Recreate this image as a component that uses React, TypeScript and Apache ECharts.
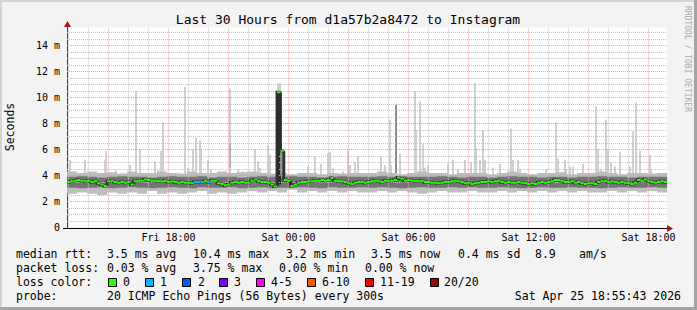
import React, { useEffect, useRef } from "react";
import * as echarts from "echarts";

// Time in hours since Fri 00:00; graph ends Sat 18:55:43, covers 30 hours
const START_H = 12 + 55 / 60 + 43 / 3600;
const END_H = START_H + 30;
const COL_H = 1 / 6; // 10-minute median columns
const SLOT_H = 1 / 12; // 5-minute probe rounds
const BAND_H = 0.5; // 30-minute smoke blocks

// median rtt (ms), one value per 10 minutes
const median = [
  3.5, 3.55, 3.6, 3.65, 3.6, 3.55, 3.6, 3.5, 3.55, 3.4, 3.3, 3.2, 3.55, 3.6, 3.5, 3.45, 3.5, 3.45,
  3.5, 3.3, 3.55, 3.6, 3.6, 3.7, 3.65, 3.6, 3.6, 3.55, 3.55, 3.6, 3.5, 3.55, 3.5, 3.45, 3.5, 3.45,
  3.45, 3.4, 3.5, 3.5, 3.5, 3.55, 3.5, 3.6, 3.6, 3.4, 3.35, 3.25, 3.3, 3.45, 3.5, 3.45, 3.5, 3.45,
  3.45, 3.6, 3.7, 3.55, 3.5, 3.5, 3.45, 3.3, 3.15, 10.4, 5.9, 3.65, 3.6, 3.2, 3.3, 3.45, 3.5, 3.5,
  3.55, 3.55, 3.6, 3.6, 3.65, 3.6, 3.65, 3.8, 3.6, 3.55, 3.55, 3.5, 3.4, 3.35, 3.45, 3.5, 3.5, 3.45,
  3.5, 3.55, 3.6, 3.55, 3.5, 3.6, 3.55, 3.6, 3.65, 3.85, 3.75, 3.6, 3.65, 3.6, 3.55, 3.55, 3.6, 3.5,
  3.5, 3.45, 3.45, 3.4, 3.45, 3.5, 3.5, 3.55, 3.6, 3.55, 3.5, 3.4, 3.45, 3.35, 3.4, 3.45, 3.5, 3.5,
  3.55, 3.5, 3.55, 3.6, 3.5, 3.45, 3.5, 3.45, 3.45, 3.5, 3.45, 3.4, 3.35, 3.4, 3.35, 3.45, 3.5, 3.45,
  3.5, 3.55, 3.65, 3.65, 3.6, 3.5, 3.5, 3.55, 3.45, 3.5, 3.4, 3.35, 3.4, 3.4, 3.35, 3.5, 3.55, 3.6,
  3.5, 3.55, 3.5, 3.45, 3.5, 3.45, 3.4, 3.35, 3.45, 3.65, 3.6, 3.7, 3.55, 3.5, 3.45, 3.5, 3.55, 3.5,
];

// columns with packet loss (count of lost pings out of 20)
const lossColumns = [38, 39, 40, 42];
const lossCounts = [1, 1, 1, 1];

// smoke (30-minute blocks): outer and inner spread of the 20 pings, ms
const outerHi = [
  4.3, 4.2, 4.3, 4.2, 4.25, 4.15, 4.3, 4.2, 4.2, 4.3,
  4.2, 4.15, 4.3, 4.2, 4.2, 4.3, 4.2, 4.25, 4.3, 4.2,
  4.15, 4.2, 4.1, 4.2, 4.2, 4.1, 4.2, 4.15, 4.2, 4.2,
  4.2, 4.3, 4.2, 4.1, 4.2, 4.3, 4.2, 4.2, 4.1, 4.2,
  4.2, 4.2, 4.1, 4.2, 4.3, 4.2, 4.1, 4.2, 4.2, 4.25,
  4.1, 4.2, 4.2, 4.3, 4.2, 4.1, 4.2, 4.2, 4.15, 4.2,
];
const outerLo = [
  2.6, 2.7, 2.6, 2.5, 2.7, 2.6, 2.7, 2.6, 2.8, 2.6,
  2.7, 2.6, 2.7, 2.8, 2.6, 2.7, 2.6, 2.7, 2.8, 2.7,
  2.8, 2.7, 2.9, 2.7, 2.8, 2.7, 2.8, 2.7, 2.8, 2.7,
  2.7, 2.8, 2.7, 2.8, 2.7, 2.6, 2.7, 2.8, 2.7, 2.7,
  2.8, 2.7, 2.7, 2.8, 2.7, 2.8, 2.7, 2.8, 2.7, 2.8,
  2.7, 2.8, 2.7, 2.7, 2.8, 2.7, 2.8, 2.7, 2.8, 2.7,
];
const innerHi = [
  3.9, 3.95, 3.9, 3.85, 3.9, 3.95, 3.9, 3.9, 3.85, 3.9,
  3.95, 3.9, 3.9, 3.95, 3.85, 3.9, 3.9, 3.85, 3.9, 3.95,
  3.9, 3.9, 3.95, 3.9, 3.9, 3.85, 3.9, 3.95, 3.9, 3.9,
  3.9, 3.95, 3.9, 3.95, 3.9, 3.9, 3.9, 3.95, 3.9, 3.85,
  3.9, 3.9, 3.85, 3.9, 3.95, 3.9, 3.9, 3.85, 3.9, 3.9,
  3.85, 3.9, 3.9, 3.95, 3.9, 3.9, 3.85, 3.9, 3.9, 3.9,
];
const innerLo = [
  3.05, 3.0, 3.05, 3.1, 3.0, 3.05, 3.1, 3.05, 3.0, 3.05,
  3.1, 3.05, 3.0, 3.1, 3.05, 3.05, 3.1, 3.0, 3.05, 3.1,
  3.0, 3.05, 3.05, 3.1, 3.05, 3.0, 3.1, 3.05, 3.05, 3.1,
  3.05, 3.1, 3.05, 3.0, 3.05, 3.1, 3.05, 3.05, 3.1, 3.05,
  3.1, 3.05, 3.05, 3.1, 3.05, 3.0, 3.05, 3.1, 3.05, 3.05,
  3.1, 3.05, 3.05, 3.0, 3.05, 3.1, 3.05, 3.05, 3.1, 3.05,
];

// highest ping per 5-minute round where it stands out of the smoke
const spikeSlot = [
  1, 10, 22, 23, 29, 37, 41, 43, 52, 54, 56, 57, 70, 72, 75, 77, 79, 80, 84, 86,
  97, 102, 105, 112, 114, 115, 120, 121, 126, 127, 128, 144, 148, 152, 156, 157, 159, 165, 168, 169,
  172, 174, 188, 190, 193, 194, 197, 199, 202, 208, 209, 211, 213, 214, 216, 228, 231, 234, 238, 239,
  242, 244, 245, 247, 249, 250, 255, 259, 266, 267, 270, 271, 287, 293, 294, 298, 299, 301, 303, 309,
  317, 318, 320, 323, 324, 326, 328, 331, 337, 339, 341, 343, 347, 349, 350,
];
const spikeMax = [
  5.2, 5.2, 5.2, 5.9, 4.4, 4.8, 10.5, 6.0, 5.1, 4.4, 5.9, 8.1, 10.8, 4.6, 6.0, 6.9, 6.7, 6.1, 5.2, 4.5,
  10.7, 4.5, 4.3, 6.0, 5.1, 4.6, 6.3, 5.6, 11.1, 11.1, 7.2, 4.7, 5.5, 4.9, 5.7, 5.8, 4.6, 4.3, 5.9, 4.8,
  5.0, 5.5, 5.5, 4.8, 8.3, 4.8, 9.5, 5.7, 4.0, 10.5, 7.5, 9.7, 6.4, 4.6, 4.8, 4.9, 5.2, 4.5, 5.2, 4.0,
  5.0, 11.1, 6.1, 5.2, 7.5, 5.2, 4.6, 4.9, 7.6, 5.2, 5.2, 4.5, 4.5, 8.1, 5.3, 5.2, 4.5, 4.7, 4.7, 4.9,
  9.3, 6.0, 4.5, 8.3, 6.0, 5.0, 4.7, 5.8, 4.7, 7.4, 9.6, 5.9, 4.0, 5.6, 4.5,
];

// rounds where many pings spread high (denser smoke)
const heavySlot = [97, 126, 127, 128, 197];
const heavyLo = [4.6, 3.3, 3.3, 4.0, 4.2];
const heavyHi = [6.5, 10.5, 10.5, 6.6, 9.4];
const heavyLevel = [2, 0, 0, 1, 1];

const xTickHours = [18, 24, 30, 36, 42];
const xTickLabels = ["Fri 18:00", "Sat 00:00", "Sat 06:00", "Sat 12:00", "Sat 18:00"];
const xGridHours = [13, 14, 15, 16, 17, 18, 19, 20, 21, 22, 23, 24, 25, 26, 27, 28, 29, 30, 31, 32, 33, 34, 35, 36, 37, 38, 39, 40, 41, 42];
const xMajorHours = [15, 18, 21, 24, 27, 30, 33, 36, 39, 42];
const yTickValues = [0, 2, 4, 6, 8, 10, 12, 14];
const yGridValues = [0.5, 1, 1.5, 2, 2.5, 3, 3.5, 4, 4.5, 5, 5.5, 6, 6.5, 7, 7.5, 8, 8.5, 9, 9.5, 10, 10.5, 11, 11.5, 12, 12.5, 13, 13.5, 14, 14.5, 15];
const yMax = 15.385;

const lossLabels = ["0", "1", "2", "3", "4-5", "6-10", "11-19", "20/20"];
const lossColors = ["#26ff00", "#00b8ff", "#0059ff", "#7e00ff", "#ff00ff", "#ff5500", "#ff0000", "#a10000"];

const row1 = ["median rtt:", "3.5 ms avg", "10.4 ms max", "3.2 ms min", "3.5 ms now", "0.4 ms sd", "8.9", "am/s"];
const row1X = [16, 107, 193, 286, 371, 458, 535, 579];
const row2 = ["packet loss:", "0.03 % avg", "3.75 % max", "0.00 % min", "0.00 % now"];
const row2X = [16, 107, 193, 279, 365];
const lossBoxX = [108, 145, 182, 219, 256, 307, 365, 430];
const lossTextX = [123, 160, 198, 234, 271, 322, 380, 444];

const FONT = "DejaVu Sans Mono";
const heavyColors = ["#262626", "#8c8c8c", "#b4b4b4"];

function lossClass(n: number) {
  if (n <= 3) return n;
  if (n <= 5) return 4;
  if (n <= 10) return 5;
  if (n <= 19) return 6;
  return 7;
}

export default function App() {
  const ref = useRef<HTMLDivElement>(null);
  useEffect(() => {
    const chart = echarts.init(ref.current!, null, { renderer: "svg" });

    const bandData = outerLo.map((lo, k) => [
      START_H + k * BAND_H,
      START_H + (k + 1) * BAND_H,
      lo,
      outerHi[k],
      innerLo[k],
      innerHi[k],
    ]);
    const spikeData = spikeSlot.map((s, j) => [
      START_H + s * SLOT_H,
      START_H + (s + 1) * SLOT_H,
      median[Math.floor(s / 2)],
      spikeMax[j],
    ]);
    const heavyData = heavySlot.map((s, j) => [
      START_H + s * SLOT_H,
      START_H + (s + 1) * SLOT_H,
      heavyLo[j],
      heavyHi[j],
      heavyLevel[j],
    ]);
    const medData = median.map((v, i) => {
      const li = lossColumns.indexOf(i);
      const loss = li >= 0 ? lossCounts[li] : 0;
      return [START_H + i * COL_H, START_H + (i + 1) * COL_H, v, i ? median[i - 1] : v, lossClass(loss)];
    });

    const rectOf = (api: any, x0: number, x1: number, lo: number, hi: number, minW = 0) => {
      const a = api.coord([x0, hi]);
      const b = api.coord([x1, lo]);
      const w = b[0] - a[0];
      if (w < minW) {
        const x = Math.round(a[0]);
        return { x, y: a[1], width: minW, height: b[1] - a[1] };
      }
      return { x: a[0], y: a[1], width: w, height: b[1] - a[1] };
    };

    const minorStyle = { color: "#c4c4c4", width: 1, type: [1, 1] };
    const majorStyle = { color: "#f09a9a", width: 1, type: [1, 1] };
    const TXT = (x: number, y: number, text: string, align = "left") => ({
      type: "text", x, y,
      style: { text, font: `11.5px '${FONT}'`, fill: "#000", align, verticalAlign: "middle" },
    });

    const graphic: any[] = [];
    // frame
    graphic.push({ type: "rect", shape: { x: 0, y: 0, width: 697, height: 2 }, style: { fill: "#d4d4d4" }, silent: true });
    graphic.push({ type: "rect", shape: { x: 0, y: 0, width: 2, height: 310 }, style: { fill: "#d4d4d4" }, silent: true });
    graphic.push({ type: "rect", shape: { x: 694, y: 0, width: 3, height: 310 }, style: { fill: "#a4a4a4" }, silent: true });
    graphic.push({ type: "rect", shape: { x: 0, y: 307, width: 697, height: 3 }, style: { fill: "#a4a4a4" }, silent: true });
    // title
    graphic.push({
      type: "text", x: 348, y: 19,
      style: { text: "Last 30 Hours from d1a57b2a8472 to Instagram", font: `13px '${FONT}'`, fill: "#000", align: "center", verticalAlign: "middle" },
    });
    graphic.push({
      type: "text", x: 10, y: 127, rotation: Math.PI / 2,
      style: { text: "Seconds", font: `11.5px '${FONT}'`, fill: "#000", align: "center", verticalAlign: "middle" },
    });
    graphic.push({
      type: "text", x: 687, y: 59, rotation: -Math.PI / 2,
      style: { text: "RRDTOOL / TOBI OETIKER", font: `8px '${FONT}'`, fill: "#ababab", align: "center", verticalAlign: "middle" },
    });
    // axis extensions and arrows
    graphic.push({ type: "line", shape: { x1: 67.5, y1: 24, x2: 67.5, y2: 28 }, style: { stroke: "#444", lineWidth: 1 }, z: 10 });
    graphic.push({ type: "polygon", shape: { points: [[64, 27], [71, 27], [67.5, 21]] }, style: { fill: "#9e1c1c" }, z: 10 });
    graphic.push({ type: "line", shape: { x1: 63, y1: 228.5, x2: 669, y2: 228.5 }, style: { stroke: "#000", lineWidth: 1 }, z: 10 });
    graphic.push({ type: "polygon", shape: { points: [[667, 225], [667, 232], [673, 228.5]] }, style: { fill: "#9e1c1c" }, z: 10 });
    // legend rows
    row1.forEach((t, i) => graphic.push(TXT(row1X[i], 254, t)));
    row2.forEach((t, i) => graphic.push(TXT(row2X[i], 268, t)));
    graphic.push(TXT(16, 282, "loss color:"));
    lossLabels.forEach((t, i) => {
      graphic.push({
        type: "rect", shape: { x: lossBoxX[i] + 0.5, y: 278.5, width: 8, height: 8 },
        style: { fill: lossColors[i], stroke: "#000", lineWidth: 1 },
      });
      graphic.push(TXT(lossTextX[i], 282, t));
    });
    graphic.push(TXT(16, 296, "probe:"));
    graphic.push(TXT(107, 296, "20 ICMP Echo Pings (56 Bytes) every 300s"));
    graphic.push(TXT(681, 296, "Sat Apr 25 18:55:43 2026", "right"));

    const stepPoints = (api: any) => {
      const a = api.coord([api.value(0), api.value(3)]);
      const b = api.coord([api.value(0), api.value(2)]);
      const c = api.coord([api.value(1), api.value(2)]);
      return [a, b, c];
    };

    chart.setOption({
      animation: false,
      backgroundColor: "#f3f3f3",
      grid: { left: 67.07, right: 29.93, top: 27.5, bottom: 82.5, show: true, backgroundColor: "#ffffff", borderWidth: 0, outerBoundsMode: "none" },
      xAxis: {
        type: "value",
        min: START_H,
        max: END_H,
        axisLine: { show: false },
        axisTick: { show: false },
        splitLine: { show: false },
        axisLabel: {
          customValues: xTickHours,
          margin: 5,
          fontFamily: FONT,
          fontSize: 10,
          color: "#000",
          formatter: (v: number) => {
            const i = xTickHours.indexOf(Math.round(v));
            return i >= 0 ? xTickLabels[i] : "";
          },
        },
      },
      yAxis: {
        type: "value",
        min: 0,
        max: yMax,
        axisLine: { show: true, lineStyle: { color: "#444", width: 1 } },
        axisTick: { show: false },
        splitLine: { show: false },
        axisLabel: {
          customValues: yTickValues,
          margin: 7,
          fontFamily: FONT,
          fontSize: 10,
          color: "#000",
          formatter: (v: number) => (v === 0 ? "0" : `${v} m`),
        },
      },
      graphic,
      series: [
        {
          type: "custom",
          name: "spikes",
          z: 2,
          clip: true,
          silent: true,
          encode: { x: [0, 1], y: [2, 3] },
          data: spikeData,
          renderItem: (_p: any, api: any) => ({
            type: "rect",
            shape: rectOf(api, api.value(0), api.value(1), api.value(2), api.value(3), 2),
            style: { fill: "#d0d0d0" },
          }),
        },
        {
          type: "custom",
          name: "smoke",
          z: 3,
          clip: true,
          silent: true,
          encode: { x: [0, 1], y: [2, 3, 4, 5] },
          data: bandData,
          renderItem: (_p: any, api: any) => ({
            type: "group",
            children: [
              { type: "rect", shape: rectOf(api, api.value(0), api.value(1), api.value(2), api.value(3)), style: { fill: "#bdbdbd" } },
              { type: "rect", shape: rectOf(api, api.value(0), api.value(1), api.value(4), api.value(5)), style: { fill: "#747474" } },
            ],
          }),
        },
        {
          type: "custom",
          name: "heavy",
          z: 4,
          clip: true,
          silent: true,
          encode: { x: [0, 1], y: [2, 3] },
          data: heavyData,
          renderItem: (_p: any, api: any) => ({
            type: "rect",
            shape: rectOf(api, api.value(0), api.value(1), api.value(2), api.value(3), 2),
            style: { fill: heavyColors[api.value(4)] },
          }),
        },
        {
          type: "line",
          name: "grid",
          z: 5,
          silent: true,
          symbol: "none",
          data: [[START_H, 0]],
          lineStyle: { opacity: 0 },
          markLine: {
            silent: true,
            z: 5,
            symbol: ["none", "none"],
            label: { show: false },
            animation: false,
            data: [
              ...xGridHours.filter((h) => xMajorHours.indexOf(h) < 0).map((h) => ({ xAxis: h, lineStyle: minorStyle })),
              ...yGridValues.filter((v) => v % 2 !== 0).map((v) => ({ yAxis: v, lineStyle: minorStyle })),
              ...xMajorHours.map((h) => ({ xAxis: h, lineStyle: majorStyle })),
              ...yGridValues.filter((v) => v % 2 === 0).map((v) => ({ yAxis: v, lineStyle: majorStyle })),
            ],
          },
        },
        {
          type: "custom",
          name: "medianShade",
          z: 6,
          clip: true,
          silent: true,
          encode: { x: [0, 1], y: [2, 3] },
          data: medData,
          renderItem: (_p: any, api: any) => ({
            type: "polyline",
            shape: { points: stepPoints(api) },
            style: { stroke: "#2e2e2e", lineWidth: 3, fill: null },
          }),
        },
        {
          type: "custom",
          name: "median",
          z: 7,
          clip: true,
          silent: true,
          encode: { x: [0, 1], y: [2, 3] },
          data: medData,
          renderItem: (_p: any, api: any) => {
            const pts = stepPoints(api);
            return {
              type: "polyline",
              shape: { points: [pts[1], pts[2]] },
              style: { stroke: lossColors[api.value(4)], lineWidth: 2, fill: null },
            };
          },
        },
      ],
    });
    return () => chart.dispose();
  }, []);
  return <div ref={ref} style={{ position: "fixed", left: 0, top: 0, width: 697, height: 310 }} />;
}
